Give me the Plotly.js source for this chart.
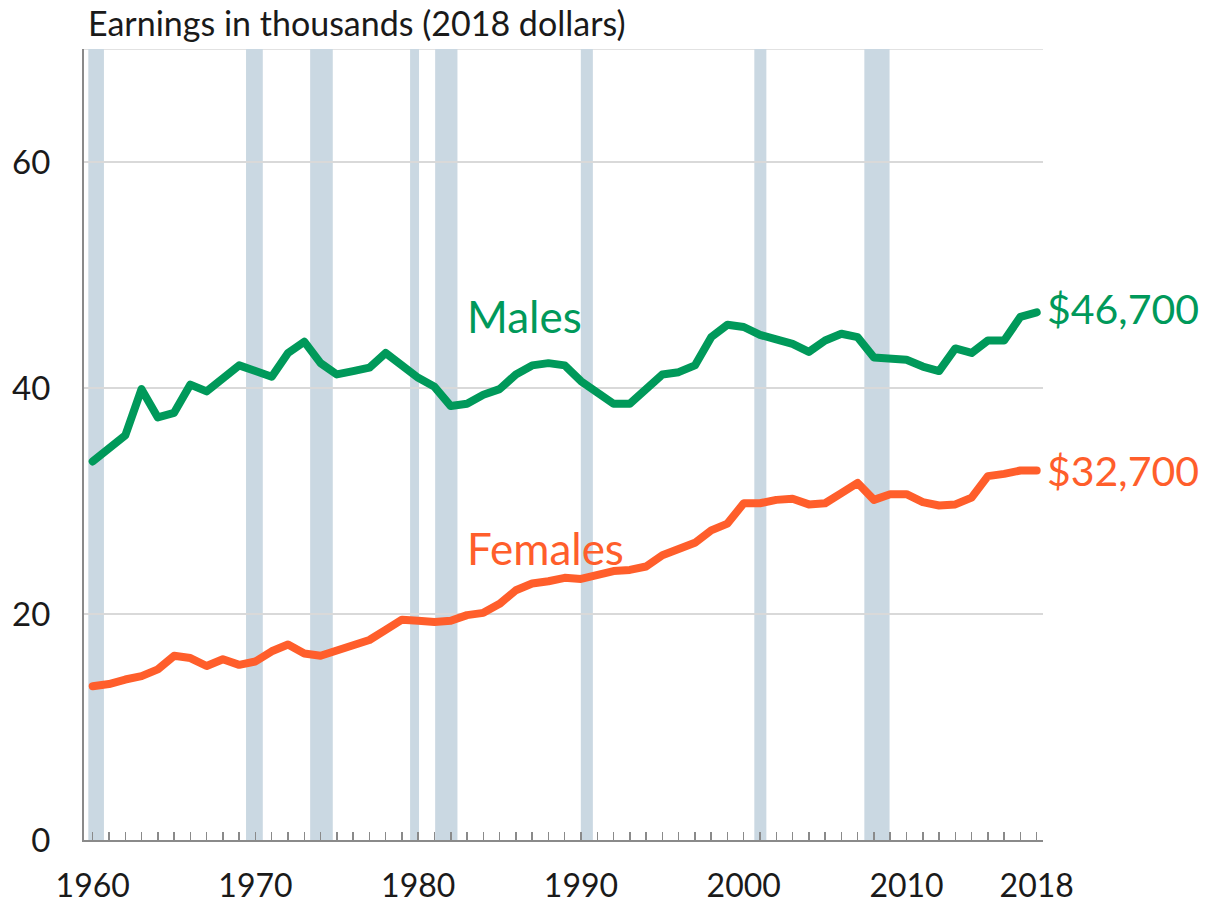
<!DOCTYPE html>
<html>
<head>
<meta charset="utf-8">
<script src="https://cdn.plot.ly/plotly-3.0.1.min.js"></script>
<style>
  html, body { margin: 0; padding: 0; background: #fff; }
  #chart { width: 1209px; height: 903px; }
  .scatterlayer .js-line { stroke-linejoin: round; stroke-linecap: round; }
</style>
</head>
<body>
<div id="chart"></div>
<script>
const years = [1960,1961,1962,1963,1964,1965,1966,1967,1968,1969,
               1970,1971,1972,1973,1974,1975,1976,1977,1978,1979,
               1980,1981,1982,1983,1984,1985,1986,1987,1988,1989,
               1990,1991,1992,1993,1994,1995,1996,1997,1998,1999,
               2000,2001,2002,2003,2004,2005,2006,2007,2008,2009,
               2010,2011,2012,2013,2014,2015,2016,2017,2018];

const males = [33.5,34.7,35.8,39.9,37.4,37.8,40.3,39.7,40.9,42.0,
               41.5,41.0,43.1,44.1,42.2,41.2,41.5,41.8,43.1,41.9,
               40.9,40.1,38.4,38.6,39.4,39.9,41.2,42.0,42.2,42.0,
               40.6,39.6,38.6,38.6,39.9,41.2,41.4,42.0,44.5,45.6,
               45.4,44.7,44.3,43.9,43.2,44.2,44.8,44.5,42.7,42.6,
               42.5,41.9,41.5,43.5,43.1,44.2,44.2,46.3,46.7];

const females = [13.6,13.8,14.2,14.5,15.1,16.3,16.1,15.4,16.0,15.5,
                 15.8,16.7,17.3,16.5,16.3,16.8,17.3,17.7,18.6,19.5,
                 19.4,19.3,19.4,19.9,20.1,20.9,22.1,22.7,22.9,23.2,
                 23.1,23.4,23.8,23.9,24.2,25.2,25.7,26.3,27.4,28.0,
                 29.8,29.8,30.1,30.2,29.7,29.8,30.7,31.6,30.1,30.6,
                 30.6,29.9,29.6,29.7,30.3,32.2,32.4,32.7,32.7];

const recStart = [1959.73, 1969.42, 1973.36, 1979.50, 1981.04, 1989.99, 2000.65, 2007.41];
const recEnd   = [1960.69, 1970.45, 1974.75, 1980.05, 1982.41, 1990.73, 2001.39, 2008.96];

const xTickVals = [1960, 1970, 1980, 1990, 2000, 2010, 2018];
const xTickText = ['1960', '1970', '1980', '1990', '2000', '2010', '2018'];
const yTickVals = [0, 20, 40, 60];

const maleLabel = '$46,700';
const femaleLabel = '$32,700';
const maleLabelY = 47.0;
const femaleLabelY = 32.7;

const GREEN = '#00995A';
const ORANGE = '#FF5E2B';
const FONT = 'Lato, "Open Sans", sans-serif';

const shapes = recStart.map((s, i) => ({
  type: 'rect', xref: 'x', yref: 'y', x0: s, x1: recEnd[i], y0: 0, y1: 70,
  fillcolor: '#CAD8E2', line: { width: 0 }, layer: 'below'
}));
shapes.push({
  type: 'line', xref: 'paper', yref: 'y', x0: 0, x1: 1, y0: 70, y1: 70,
  line: { color: '#d9d9d9', width: 1.5 }, layer: 'below'
});

const traces = [
  { x: years, y: males, type: 'scatter', mode: 'lines', name: 'Males',
    line: { color: GREEN, width: 8 }, hoverinfo: 'x+y' },
  { x: years, y: females, type: 'scatter', mode: 'lines', name: 'Females',
    line: { color: ORANGE, width: 8 }, hoverinfo: 'x+y' }
];

const layout = {
  width: 1209, height: 903,
  margin: { l: 84, r: 166, t: 49, b: 63 },
  paper_bgcolor: '#fff', plot_bgcolor: '#fff',
  showlegend: false,
  font: { family: FONT, color: '#1a1a1a', size: 32 },
  title: {
    text: 'Earnings in thousands (2018 dollars)',
    xref: 'container', yref: 'container',
    x: 88 / 1209, xanchor: 'left',
    y: 1 - 24 / 903, yanchor: 'middle',
    font: { family: FONT, size: 34, color: '#1a1a1a' }
  },
  xaxis: {
    range: [1959.465, 2018.387],
    tickmode: 'array', tickvals: xTickVals, ticktext: xTickText,
    ticks: 'inside', ticklen: 8, tickwidth: 1.5, tickcolor: '#8a8a8a',
    minor: { tick0: 1960, dtick: 1, ticks: 'inside', ticklen: 8, tickwidth: 1.5, tickcolor: '#8a8a8a', showgrid: false },
    showgrid: false, zeroline: false,
    showline: true, linecolor: '#8a8a8a', linewidth: 2,
    tickfont: { family: FONT, size: 32, color: '#1a1a1a' },
    ticklabelstandoff: 17
  },
  yaxis: {
    range: [0, 70],
    tickmode: 'array', tickvals: yTickVals,
    ticks: '', showgrid: true, gridcolor: '#d9d9d9', gridwidth: 1.5,
    zeroline: false,
    showline: true, linecolor: '#8a8a8a', linewidth: 2,
    tickfont: { family: FONT, size: 33, color: '#1a1a1a' },
    ticklabelstandoff: 25
  },
  shapes: shapes,
  annotations: [
    { x: 1982.9, y: 46.4, xref: 'x', yref: 'y', text: 'Males', showarrow: false,
      xanchor: 'left', yanchor: 'middle', font: { family: FONT, size: 44, color: GREEN } },
    { x: 1982.85, y: 25.8, xref: 'x', yref: 'y', text: 'Females', showarrow: false,
      xanchor: 'left', yanchor: 'middle', font: { family: FONT, size: 44, color: ORANGE } },
    { x: (1045 - 84) / 959, y: maleLabelY, xref: 'paper', yref: 'y', text: maleLabel, showarrow: false,
      xanchor: 'left', yanchor: 'middle', font: { family: FONT, size: 41, color: GREEN } },
    { x: (1045 - 84) / 959, y: femaleLabelY, xref: 'paper', yref: 'y', text: femaleLabel, showarrow: false,
      xanchor: 'left', yanchor: 'middle', font: { family: FONT, size: 41, color: ORANGE } }
  ]
};

Plotly.newPlot('chart', traces, layout, { displayModeBar: false, staticPlot: true });
</script>
</body>
</html>
